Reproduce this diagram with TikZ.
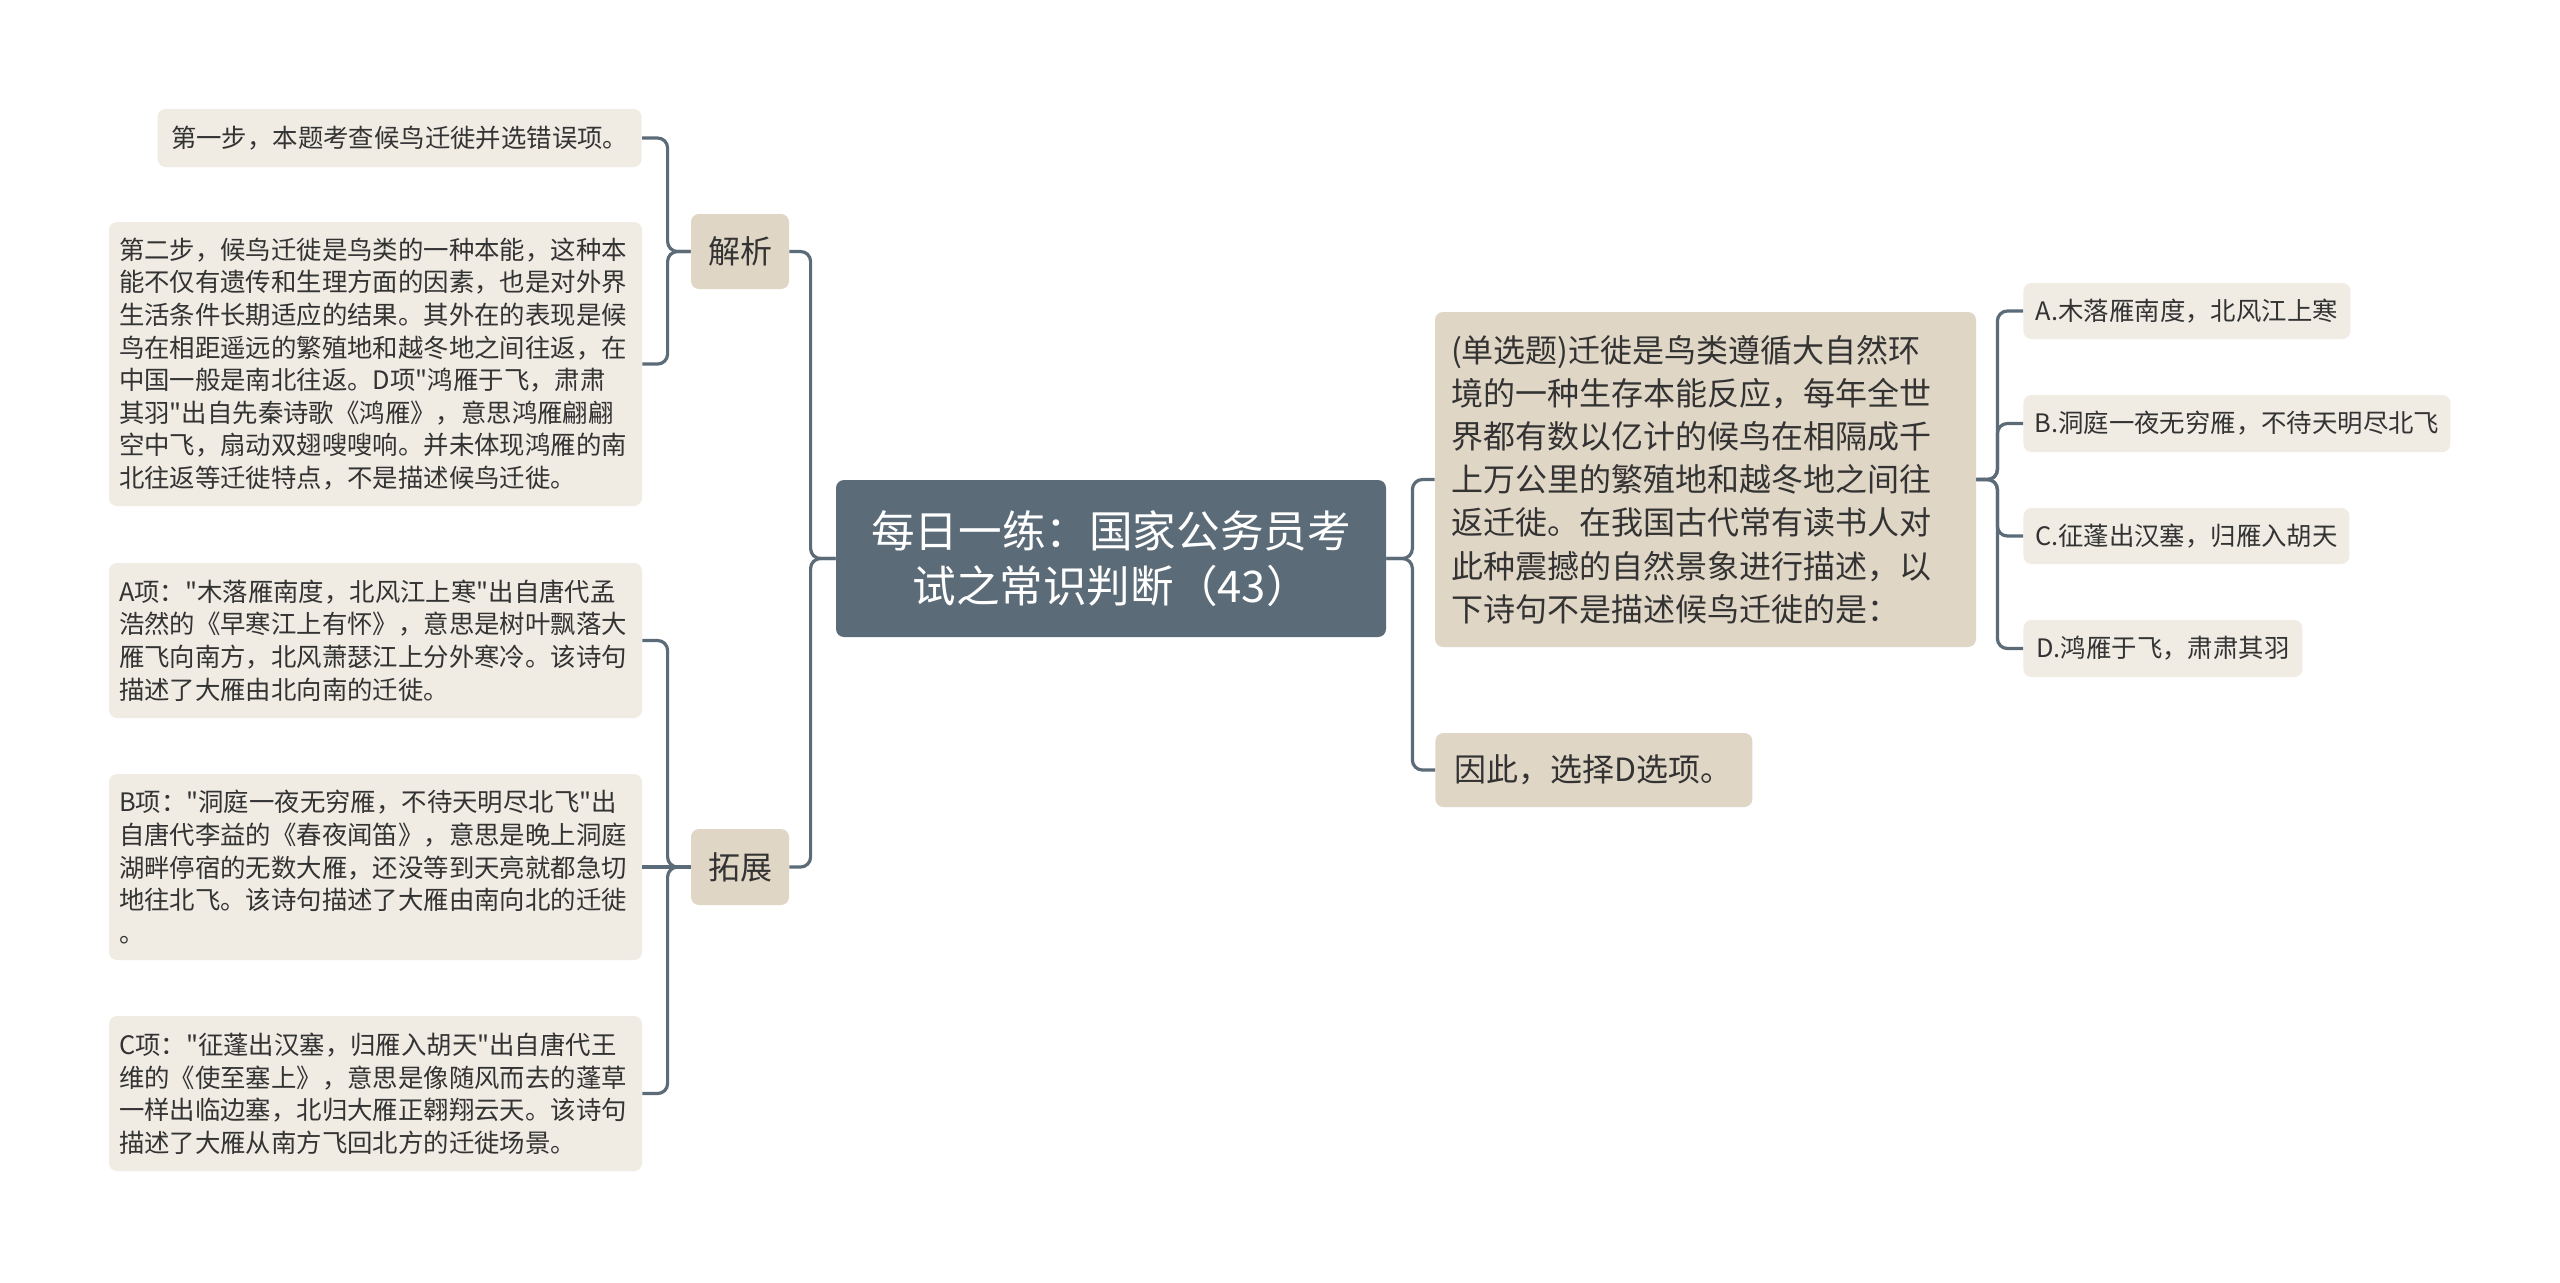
\documentclass[tikz,border=0pt]{standalone}
\usepackage{fontspec}
\newfontfamily\cnfont{Noto Sans CJK SC}
\usetikzlibrary{positioning}
\definecolor{slate}{HTML}{5B6B78}
\definecolor{leaffill}{HTML}{F0ECE4}
\definecolor{branchfill}{HTML}{E0D6C6}
\definecolor{inktext}{HTML}{333333}

\begin{document}
\begin{tikzpicture}
[x=0.5pt,y=-0.5pt,
 link/.style={draw=slate,line width=1.6pt,rounded corners=5pt},
 rootbox/.style={fill=slate,text=white,rounded corners=4pt,inner sep=0pt,
   minimum width=275pt,minimum height=78.5pt,align=center,
   font=\cnfont\fontsize{21.8pt}{27.8pt}\selectfont},
 branch/.style={fill=branchfill,text=inktext,rounded corners=4pt,inner sep=0pt,
   font=\cnfont\fontsize{16pt}{21.6pt}\selectfont},
 leaf/.style={fill=leaffill,text=inktext,rounded corners=4pt,inner sep=0pt,
   font=\cnfont\fontsize{12.7pt}{16.3pt}\selectfont},
 para/.style={leaf,text width=256.5pt,inner xsep=5pt,align=left}]
\useasboundingbox (0,0) rectangle (2560,1282);
\fill[white] (0,0) rectangle (2560,1282);

\node[rootbox] (root) at (1111,558.5) {每日一练：国家公务员考\\试之常识判断（43）};

% left side
\node[branch,minimum width=49pt,minimum height=37.5pt] (jiexi) at (740,251.5) {解析};
\node[branch,minimum width=49pt,minimum height=38pt] (tuozhan) at (740,867) {拓展};
\node[leaf,anchor=east,minimum width=242pt,minimum height=29pt] (step1) at (642,138) {第一步，本题考查候鸟迁徙并选错误项。};
\node[para,minimum height=142pt] (step2) at (375.5,364) {第二步，候鸟迁徙是鸟类的一种本能，这种本\\能不仅有遗传和生理方面的因素，也是对外界\\生活条件长期适应的结果。其外在的表现是候\\鸟在相距遥远的繁殖地和越冬地之间往返，在\\中国一般是南北往返。D项"鸿雁于飞，肃肃\\其羽"出自先秦诗歌《鸿雁》，意思鸿雁翩翩\\空中飞，扇动双翅嗖嗖响。并未体现鸿雁的南\\北往返等迁徙特点，不是描述候鸟迁徙。};
\node[para,minimum height=77.5pt] (expa) at (375.5,640.5) {A项："木落雁南度，北风江上寒"出自唐代孟\\浩然的《早寒江上有怀》，意思是树叶飘落大\\雁飞向南方，北风萧瑟江上分外寒冷。该诗句\\描述了大雁由北向南的迁徙。};
\node[para,minimum height=93pt] (expb) at (375.5,867) {B项："洞庭一夜无穷雁，不待天明尽北飞"出\\自唐代李益的《春夜闻笛》，意思是晚上洞庭\\湖畔停宿的无数大雁，还没等到天亮就都急切\\地往北飞。该诗句描述了大雁由南向北的迁徙\\。};
\node[para,minimum height=77.5pt] (expc) at (375.5,1093.5) {C项："征蓬出汉塞，归雁入胡天"出自唐代王\\维的《使至塞上》，意思是像随风而去的蓬草\\一样出临边塞，北归大雁正翱翔云天。该诗句\\描述了大雁从南方飞回北方的迁徙场景。};

% right side
\node[branch,text width=254.5pt,inner xsep=8pt,minimum height=167.5pt,align=left] (quest) at (1705.5,479.5) {(单选题)迁徙是鸟类遵循大自然环\\境的一种生存本能反应，每年全世\\界都有数以亿计的候鸟在相隔成千\\上万公里的繁殖地和越冬地之间往\\返迁徙。在我国古代常有读书人对\\此种震撼的自然景象进行描述，以\\下诗句不是描述候鸟迁徙的是：};
\node[branch,anchor=west,minimum width=158.5pt,minimum height=37pt] (answer) at (1435,770) {因此，选择D选项。};
\node[leaf,anchor=west,minimum width=163.5pt,minimum height=28pt] (opta) at (2023,311) {A.木落雁南度，北风江上寒};
\node[leaf,anchor=west,minimum width=213.5pt,minimum height=28.5pt] (optb) at (2023,423.5) {B.洞庭一夜无穷雁，不待天明尽北飞};
\node[leaf,anchor=west,minimum width=163pt,minimum height=28pt] (optc) at (2023,536) {C.征蓬出汉塞，归雁入胡天};
\node[leaf,anchor=west,minimum width=139.5pt,minimum height=28.5pt] (optd) at (2023,648.5) {D.鸿雁于飞，肃肃其羽};

% connectors
\draw[link] (root.west) -- ++(-25,0) |- (jiexi.east);
\draw[link] (root.west) -- ++(-25,0) |- (tuozhan.east);
\draw[link] (jiexi.west) -- ++(-23,0) |- (step1.east);
\draw[link] (jiexi.west) -- ++(-23,0) |- (step2.east);
\draw[link] (tuozhan.west) -- ++(-23,0) |- (expa.east);
\draw[link] (tuozhan.west) -- (expb.east);
\draw[link] (tuozhan.west) -- ++(-23,0) |- (expc.east);
\draw[link] (root.east) -- ++(26,0) |- (quest.west);
\draw[link] (root.east) -- ++(26,0) |- (answer.west);
\draw[link] (quest.east) -- ++(21,0) |- (opta.west);
\draw[link] (quest.east) -- ++(21,0) |- (optb.west);
\draw[link] (quest.east) -- ++(21,0) |- (optc.west);
\draw[link] (quest.east) -- ++(21,0) |- (optd.west);
\end{tikzpicture}
\end{document}
